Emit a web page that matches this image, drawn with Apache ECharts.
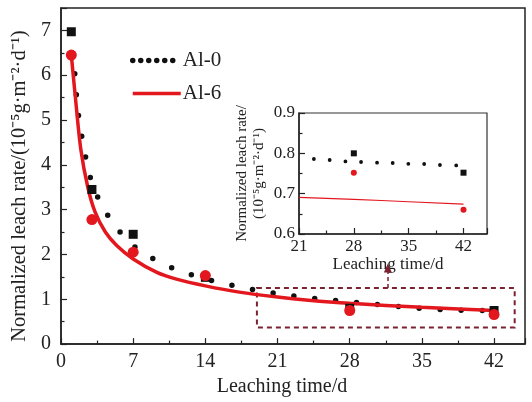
<!DOCTYPE html>
<html>
<head>
<meta charset="utf-8">
<script src="https://cdn.jsdelivr.net/npm/echarts@6/dist/echarts.min.js"></script>
<style>
    html, body { margin: 0; padding: 0; background: #fff; }
    #chart { width: 532px; height: 402px; }
</style>
</head>
<body>
<div id="chart"></div>
<script>
// 测量点
const al0Points = [[1, 6.97], [3, 3.45], [7, 2.45], [14, 1.49], [28, 0.80], [42, 0.75]];
const al6Points = [[1, 6.45], [3, 2.78], [7, 2.05], [14, 1.53], [28, 0.75], [42, 0.66]];

// 拟合曲线
const al0Fit = [[1, 6.97], [1.1, 6.48], [1.36, 5.98], [1.52, 5.49], [1.75, 5.0], [2.1, 4.52], [2.5, 4.05],
    [3.04, 3.57], [3.93, 3.11], [5.27, 2.63], [7.1, 2.18], [9.2, 1.87], [11.3, 1.65], [13.3, 1.5],
    [15.5, 1.37], [17.5, 1.27], [19.5, 1.18], [21.7, 1.1], [23.7, 1.04], [25.8, 0.99], [27.8, 0.95],
    [29.9, 0.9], [34.2, 0.81], [36.1, 0.78], [38.1, 0.76], [40.2, 0.75], [42, 0.75]];
const al6Fit = [[1, 6.45], [1.44, 5.4], [1.92, 4.35], [2.6, 3.5], [3.3, 2.95], [4.3, 2.5], [5.4, 2.2],
    [7, 1.9], [9.3, 1.6], [11.2, 1.45], [14, 1.3], [17.3, 1.16], [21, 1.05], [24, 0.98], [28, 0.91],
    [35, 0.82], [42, 0.75]];

// 局部放大图
const insetAl0Points = [[28, 0.80], [42, 0.752]];
const insetAl6Points = [[28, 0.752], [42, 0.66]];
const insetAl0Fit = [[22.9, 0.786], [24.9, 0.7835], [26.9, 0.780], [29.0, 0.7785], [30.9, 0.777],
    [33.0, 0.776], [35.1, 0.774], [37.1, 0.7735], [39.1, 0.771], [41.1, 0.770]];
const insetAl6Fit = [[21, 0.691], [28, 0.686], [35, 0.680], [42, 0.674]];

const xTicks = { min: 0, max: 45, interval: 7 };
const yTicks = { min: 0, max: 7.5, interval: 1 };
const insetXTicks = { min: 21, max: 45, interval: 7 };
const insetYTicks = { min: 0.6, max: 0.9, interval: 0.1 };

const zoomBox = [[19, 1.25], [44, 0.37]];
const arrowLine = [[31.7, 1.25], [31.7, 1.7]];

const FONT = 'Liberation Serif';
const TXT = '#222';
const RED = '#e3171e';
const BOXRED = '#7b2230';

const myChart = echarts.init(document.getElementById('chart'));

function axisCommon(fontSize) {
    return {
        axisLine: { lineStyle: { color: '#222', width: 1.5 } },
        axisTick: { inside: true, length: 6, lineStyle: { color: '#222', width: 1.2 } },
        minorTick: { show: true, splitNumber: 2, length: 3.5, lineStyle: { color: '#222', width: 1.2 } },
        splitLine: { show: false },
        axisLabel: { color: TXT, fontFamily: FONT, fontSize: fontSize, showMaxLabel: false },
        nameTextStyle: { color: TXT, fontFamily: FONT, fontSize: fontSize }
    };
}

option = {
    animation: false,
    grid: [
        { left: 61, top: 8, right: 7, bottom: 53, show: true, borderColor: '#222', borderWidth: 1.5 },
        { left: 299, top: 113, width: 188, height: 121, show: true, borderColor: '#333', borderWidth: 1.2, backgroundColor: '#fff' }
    ],
    legend: {
        orient: 'vertical',
        left: 130,
        top: 50,
        padding: 0,
        itemWidth: 48,
        itemHeight: 14,
        itemGap: 12,
        textStyle: { color: TXT, fontFamily: FONT, fontSize: 21, padding: [0, 0, 0, -3] },
        data: [
            { name: 'Al-0', itemStyle: { opacity: 0 }, lineStyle: { type: [0, 8], width: 5.5, cap: 'round', color: '#111' } },
            { name: 'Al-6', itemStyle: { opacity: 0 }, lineStyle: { width: 3.5, color: RED } }
        ]
    },
    xAxis: [
        Object.assign(axisCommon(20), {
            type: 'value', gridIndex: 0, min: xTicks.min, max: xTicks.max, interval: xTicks.interval,
            name: 'Leaching time/d', nameLocation: 'middle', nameGap: 23,
            nameTextStyle: { color: TXT, fontFamily: FONT, fontSize: 20, padding: [0, 22, 0, 0] }
        }),
        Object.assign(axisCommon(17), {
            type: 'value', gridIndex: 1, min: insetXTicks.min, max: insetXTicks.max, interval: insetXTicks.interval,
            name: 'Leaching time/d', nameLocation: 'middle', nameGap: 20,
            axisLabel: { color: TXT, fontFamily: FONT, fontSize: 17, showMaxLabel: false, margin: 4 },
            nameTextStyle: { color: TXT, fontFamily: FONT, fontSize: 17, padding: [0, 10, 0, 0] }
        })
    ],
    yAxis: [
        Object.assign(axisCommon(20), {
            type: 'value', gridIndex: 0, min: yTicks.min, max: yTicks.max, interval: yTicks.interval,
            name: 'Normalized leach rate/(10⁻⁵g·m⁻²·d⁻¹)', nameLocation: 'middle', nameGap: 26,
            axisLabel: { color: TXT, fontFamily: FONT, fontSize: 20, showMaxLabel: false, margin: 10 },
            nameTextStyle: { color: TXT, fontFamily: FONT, fontSize: 20.5, padding: [0, 20, 0, 0] }
        }),
        Object.assign(axisCommon(17), {
            type: 'value', gridIndex: 1, min: insetYTicks.min, max: insetYTicks.max, interval: insetYTicks.interval,
            name: 'Normalized leach rate/\n(10⁻⁵g·m⁻²·d⁻¹)', nameLocation: 'middle', nameGap: 31,
            axisLabel: { color: TXT, fontFamily: FONT, fontSize: 17, margin: 4, formatter: v => v.toFixed(1) },
            nameTextStyle: { color: TXT, fontFamily: FONT, fontSize: 15, lineHeight: 17 }
        })
    ],
    series: [
        {
            name: 'Al-0', type: 'line', xAxisIndex: 0, yAxisIndex: 0, data: al0Fit,
            smooth: 0.3, symbol: 'none', silent: true, itemStyle: { color: '#111' },
            lineStyle: { color: '#111', width: 5.5, type: [0, 21], cap: 'round' }, z: 3
        },
        {
            name: 'Al-6', type: 'line', xAxisIndex: 0, yAxisIndex: 0, data: al6Fit,
            smooth: 0.3, symbol: 'none', silent: true, itemStyle: { color: RED },
            lineStyle: { color: RED, width: 3.5 }, z: 4,
            markArea: {
                silent: true,
                itemStyle: { color: 'rgba(0,0,0,0)', borderColor: BOXRED, borderWidth: 2, borderType: [5, 4] },
                data: [[{ coord: zoomBox[0] }, { coord: zoomBox[1] }]]
            },
            markLine: {
                silent: true,
                symbol: ['none', 'triangle'],
                symbolSize: [8, 9],
                label: { show: false },
                lineStyle: { color: BOXRED, width: 1.5, type: [4, 3] },
                data: [[{ coord: arrowLine[0] }, { coord: arrowLine[1] }]]
            }
        },
        {
            name: 'Al-0 data', type: 'scatter', xAxisIndex: 0, yAxisIndex: 0, data: al0Points,
            symbol: 'rect', symbolSize: 9, itemStyle: { color: '#111', opacity: 1 }, z: 5
        },
        {
            name: 'Al-6 data', type: 'scatter', xAxisIndex: 0, yAxisIndex: 0, data: al6Points,
            symbol: 'circle', symbolSize: 11, itemStyle: { color: RED, opacity: 1 }, z: 6
        },
        {
            name: 'inset Al-0', type: 'line', xAxisIndex: 1, yAxisIndex: 1, data: insetAl0Fit,
            smooth: true, symbol: 'none', silent: true,
            lineStyle: { color: '#111', width: 3.8, type: [0, 15.8], cap: 'round' }, z: 7
        },
        {
            name: 'inset Al-6', type: 'line', xAxisIndex: 1, yAxisIndex: 1, data: insetAl6Fit,
            smooth: true, symbol: 'none', silent: true,
            lineStyle: { color: RED, width: 1.2 }, z: 7
        },
        {
            name: 'inset Al-0 data', type: 'scatter', xAxisIndex: 1, yAxisIndex: 1, data: insetAl0Points,
            symbol: 'rect', symbolSize: 6, itemStyle: { color: '#111', opacity: 1 }, z: 8
        },
        {
            name: 'inset Al-6 data', type: 'scatter', xAxisIndex: 1, yAxisIndex: 1, data: insetAl6Points,
            symbol: 'circle', symbolSize: 6, itemStyle: { color: RED, opacity: 1 }, z: 8
        }
    ]
};

myChart.setOption(option);
</script>
</body>
</html>
